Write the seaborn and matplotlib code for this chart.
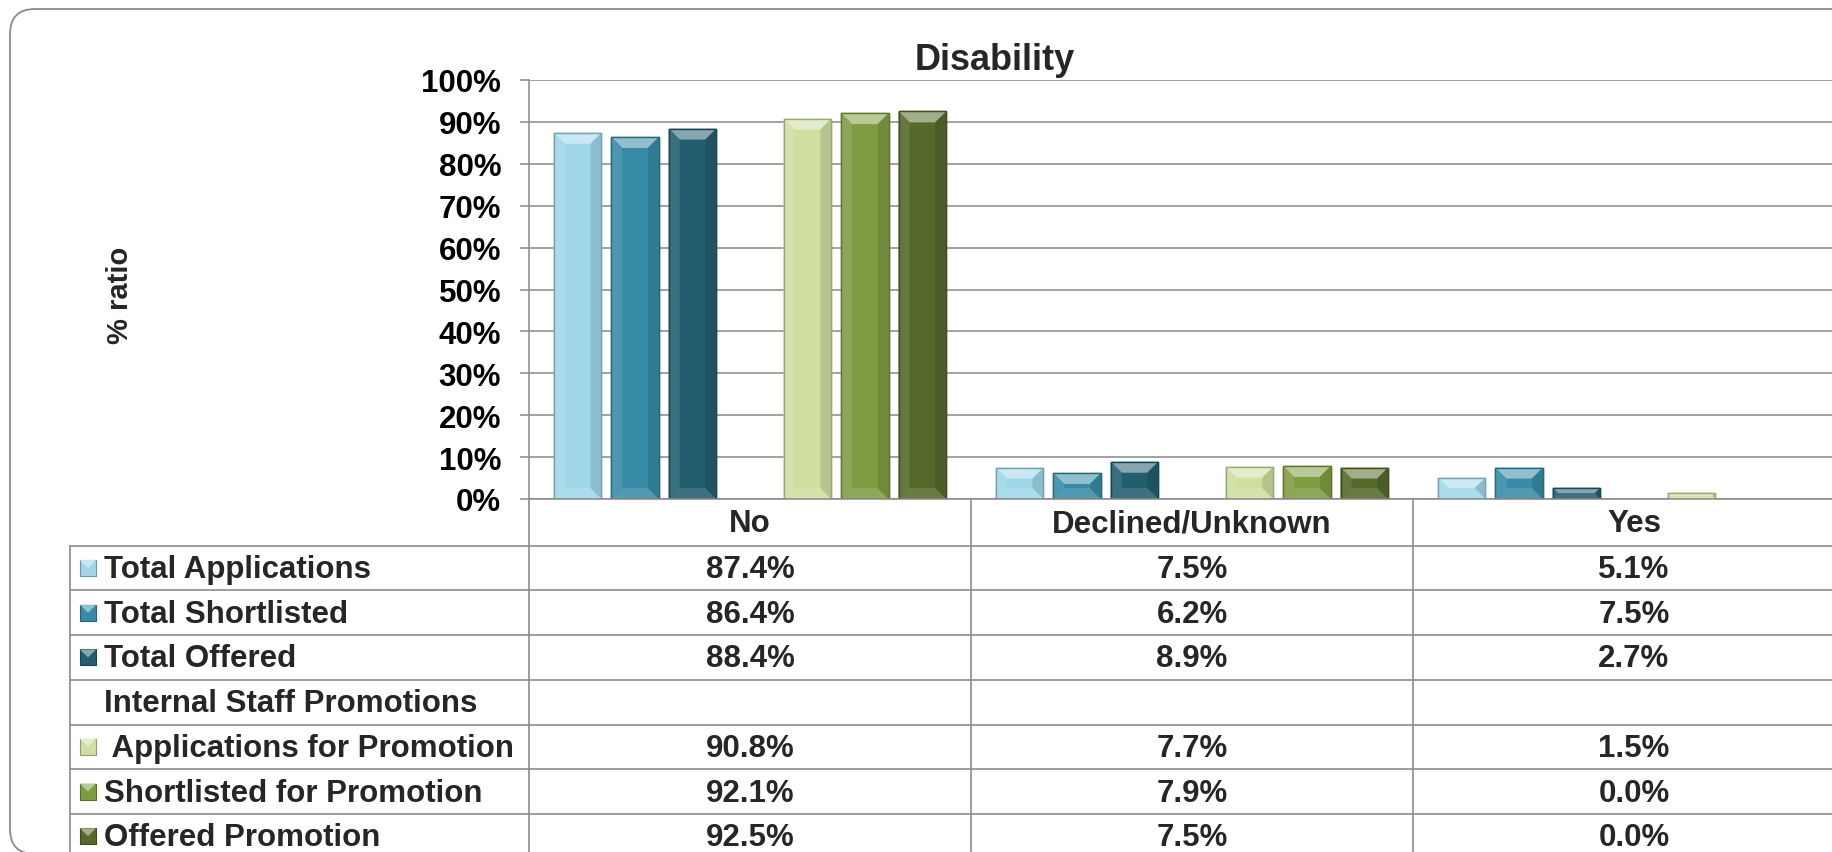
import numpy as np
import pandas as pd
import matplotlib
matplotlib.use("Agg")
import matplotlib.pyplot as plt
import seaborn as sns
from matplotlib.patches import Rectangle, Polygon, FancyBboxPatch
from matplotlib.lines import Line2D
from matplotlib.transforms import IdentityTransform
from matplotlib.colors import to_rgb

# ---- data -------------------------------------------------------------
categories = ["No", "Declined/Unknown", "Yes"]

series_names = [
    "Total Applications",
    "Total Shortlisted",
    "Total Offered",
    "Internal Staff Promotions",      # group heading row, no values
    " Applications for Promotion",
    "Shortlisted for Promotion",
    "Offered Promotion",
]

total_applications = [87.4, 7.5, 5.1]
total_shortlisted = [86.4, 6.2, 7.5]
total_offered = [88.4, 8.9, 2.7]
applications_for_promotion = [90.8, 7.7, 1.5]
shortlisted_for_promotion = [92.1, 7.9, 0.0]
offered_promotion = [92.5, 7.5, 0.0]

series_values = {
    "Total Applications": total_applications,
    "Total Shortlisted": total_shortlisted,
    "Total Offered": total_offered,
    "Internal Staff Promotions": None,
    " Applications for Promotion": applications_for_promotion,
    "Shortlisted for Promotion": shortlisted_for_promotion,
    "Offered Promotion": offered_promotion,
}

series_colors = {
    "Total Applications": "#9fd7e8",
    "Total Shortlisted": "#378ba6",
    "Total Offered": "#235e6f",
    "Internal Staff Promotions": "#ffffff",
    " Applications for Promotion": "#cedfa0",
    "Shortlisted for Promotion": "#7f9c42",
    "Offered Promotion": "#55692b",
}

y_ticks = list(range(0, 101, 10))
y_tick_labels = [f"{v}%" for v in y_ticks]

rows = []
for name in series_names:
    vals = series_values[name]
    if vals is None:
        continue
    for cat, v in zip(categories, vals):
        rows.append({"category": cat, "series": name, "value": v})
df = pd.DataFrame(rows)

# ---- style ------------------------------------------------------------
sns.set_style("white")
plt.rcParams["font.family"] = ["Liberation Sans", "DejaVu Sans"]
plt.rcParams["font.weight"] = "bold"

GRID = "#878787"
LINE = "#8c8c8c"
FS = 22.5

W, H = 1832, 853
fig = plt.figure(figsize=(W / 100, H / 100), dpi=100)
fig.patch.set_facecolor("white")


def fx(px):
    return px / W


def fy(py):
    return 1 - py / H


AX_L, AX_T, AX_B, CAT_W = 529, 81, 500, 442
ax = fig.add_axes([fx(AX_L), fy(AX_B), 3 * CAT_W / W, (AX_B - AX_T) / H])

sns.barplot(
    data=df, x="category", y="value", hue="series",
    order=categories, hue_order=series_names, palette=series_colors,
    width=0.91, gap=0.17, errorbar=None, legend=False, ax=ax,
    linewidth=1.0, saturation=1.0,
)

ax.set_xlim(-0.5, 2.5)
ax.set_ylim(0, 100)
ax.set_yticks(y_ticks)
ax.set_yticklabels(y_tick_labels, fontsize=FS, fontweight="bold")
ax.set_xlabel("")
ax.set_ylabel("")
ax.tick_params(axis="x", bottom=False, labelbottom=False)
ax.tick_params(axis="y", left=True, length=6.5, width=1.1, color=GRID,
               pad=13.5, labelcolor="black")
ax.yaxis.grid(True, color=GRID, linewidth=1.1)
ax.set_axisbelow(True)
for side in ("top", "right"):
    ax.spines[side].set_visible(False)
for side in ("left", "bottom"):
    ax.spines[side].set_color(GRID)
    ax.spines[side].set_linewidth(1.1)


def mix(c, target, f):
    c = np.array(to_rgb(c))
    return tuple(c + (np.array(target) - c) * f)


# bevelled look for the bars
to_data = ax.transData.inverted().transform
for p in list(ax.patches):
    if not isinstance(p, Rectangle):
        continue
    h = p.get_height()
    if not np.isfinite(h) or h <= 0:
        p.set_visible(False)
        continue
    fc = p.get_facecolor()[:3]
    p.set_edgecolor(mix(fc, (0, 0, 0), 0.25))
    x0, y0 = p.get_x(), p.get_y()
    (X0, Y0), (X1, Y1) = ax.transData.transform(
        [(x0, y0), (x0 + p.get_width(), y0 + h)])
    b = min(11.0, (Y1 - Y0) / 2, (X1 - X0) / 2)
    faces = [
        ([(X0, Y1), (X1, Y1), (X1 - b, Y1 - b), (X0 + b, Y1 - b)], mix(fc, (1, 1, 1), 0.45)),
        ([(X0, Y0), (X1, Y0), (X1 - b, Y0 + b), (X0 + b, Y0 + b)], mix(fc, (1, 1, 1), 0.12)),
        ([(X0, Y0), (X0, Y1), (X0 + b, Y1 - b), (X0 + b, Y0 + b)], mix(fc, (1, 1, 1), 0.10)),
        ([(X1, Y0), (X1, Y1), (X1 - b, Y1 - b), (X1 - b, Y0 + b)], mix(fc, (0, 0, 0), 0.12)),
    ]
    for pts, col in faces:
        ax.add_patch(Polygon(to_data(pts), closed=True, facecolor=col,
                             edgecolor="none", zorder=p.get_zorder() + 0.1))
    ax.add_patch(Rectangle((x0, y0), p.get_width(), h, facecolor="none",
                           edgecolor=mix(fc, (0, 0, 0), 0.25), linewidth=1.0,
                           zorder=p.get_zorder() + 0.2))

# ---- titles -----------------------------------------------------------
fig.text(fx(995), fy(60), "Disability", ha="center", va="center",
         fontsize=26, fontweight="bold")
fig.text(fx(120), fy(295), "% ratio", ha="center", va="center",
         rotation=90, fontsize=21, fontweight="bold")

# ---- data table below the plot ---------------------------------------
TBL_L = 70
ROW0 = 546.7
ROW_H = 44.7
cat_edges_px = [ax.transData.transform((e, 0))[0] for e in (-0.5, 0.5, 1.5, 2.5)]
cat_centers_px = [ax.transData.transform((i, 0))[0] for i in range(len(categories))]
right_px = W + 50


def hline(y, x0, x1):
    fig.add_artist(Line2D([fx(x0), fx(x1)], [fy(y), fy(y)], color=LINE,
                          linewidth=1.2, transform=fig.transFigure))


def vline(x, y0, y1):
    fig.add_artist(Line2D([fx(x), fx(x)], [fy(y0), fy(y1)], color=LINE,
                          linewidth=1.2, transform=fig.transFigure))


for k in range(len(series_names) + 1):
    hline(ROW0 + k * ROW_H, TBL_L, right_px)
vline(TBL_L, ROW0, H + 10)
for xe in cat_edges_px:
    vline(xe, AX_B, H + 10)

for cx, cat in zip(cat_centers_px, categories):
    fig.text(fx(cx), fy((AX_B + ROW0) / 2 + 1), cat, ha="center", va="center",
             fontsize=FS, fontweight="bold")

for k, name in enumerate(series_names):
    yc = ROW0 + (k + 0.5) * ROW_H
    fig.text(fx(104), fy(yc + 1), name, ha="left", va="center",
             fontsize=FS, fontweight="bold")
    vals = series_values[name]
    if vals is None:
        continue
    col = series_colors[name]
    fig.add_artist(Rectangle((fx(80), fy(yc + 8)), fx(16), 16 / H,
                             facecolor=col, edgecolor=mix(col, (0, 0, 0), 0.3),
                             linewidth=0.8, transform=fig.transFigure))
    fig.add_artist(Polygon([(fx(80), fy(yc - 8)), (fx(96), fy(yc - 8)),
                            (fx(88), fy(yc))], closed=True,
                           facecolor=mix(col, (1, 1, 1), 0.45), edgecolor="none",
                           transform=fig.transFigure))
    for cx, v in zip(cat_centers_px, vals):
        fig.text(fx(cx), fy(yc + 1), f"{v:.1f}%", ha="center", va="center",
                 fontsize=FS, fontweight="bold")

# rounded outer border of the chart (bottom edge runs just below the canvas)
fig.add_artist(FancyBboxPatch((10, -2), 2000, 845,
                              boxstyle="round,pad=0,rounding_size=25",
                              facecolor="none", edgecolor="#8a8a8a",
                              linewidth=1.3, transform=IdentityTransform()))

fig.savefig("out.png", dpi=100)
